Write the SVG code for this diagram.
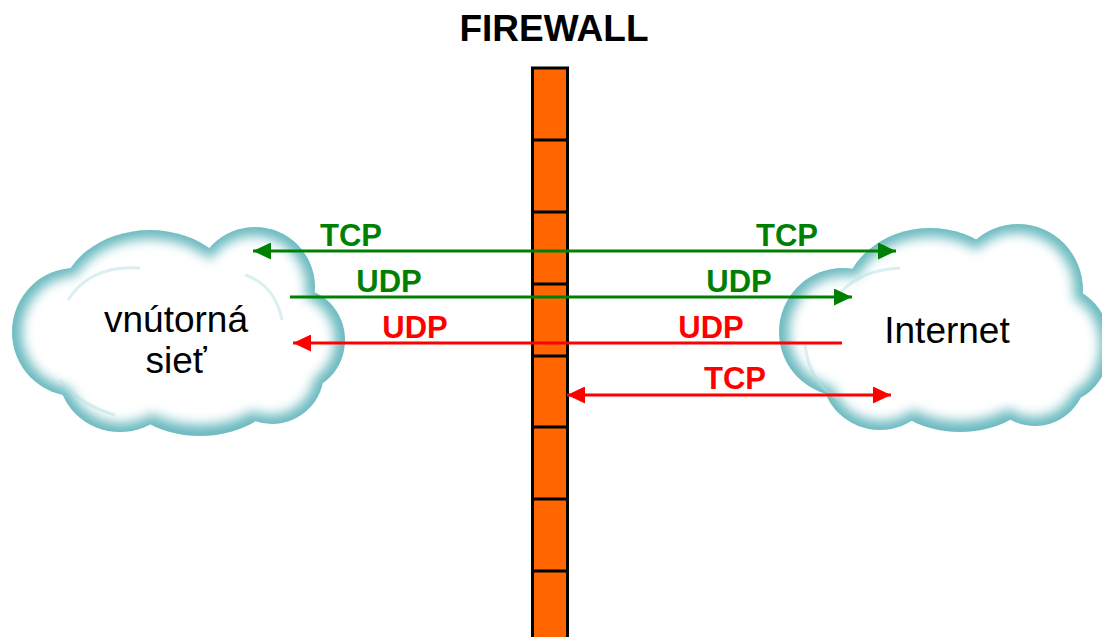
<svg xmlns="http://www.w3.org/2000/svg" width="1102" height="637" viewBox="0 0 1102 637">
<defs>
<filter id="soft" x="-20%" y="-20%" width="140%" height="140%">
<feGaussianBlur stdDeviation="6"/>
</filter>
<marker id="ag" viewBox="0 0 18 17" refX="18" refY="8.5" markerWidth="18" markerHeight="17" markerUnits="userSpaceOnUse" orient="auto-start-reverse">
<path d="M0,0 L18,8.5 L0,17 z" fill="#008000"/>
</marker>
<marker id="ar" viewBox="0 0 18 17" refX="18" refY="8.5" markerWidth="18" markerHeight="17" markerUnits="userSpaceOnUse" orient="auto-start-reverse">
<path d="M0,0 L18,8.5 L0,17 z" fill="#ff0000"/>
</marker>
</defs>
<style>
.rim{fill:#6bbac0}
.in{fill:#ffffff}
.arc{fill:none;stroke:#b6dfe2;stroke-width:3;opacity:0.5}
.lbl{font-family:"Liberation Sans",Arial,sans-serif;font-weight:bold;font-size:31px;text-anchor:middle}
.g{fill:#008000}
.r{fill:#ff0000}
.ct{font-family:"Liberation Sans",Arial,sans-serif;font-size:37px;text-anchor:middle;fill:#000}
.lg{stroke:#008000;stroke-width:3;fill:none}
.lr{stroke:#ff0000;stroke-width:3;fill:none}
.div{stroke:#000;stroke-width:3}
</style>
<rect width="1102" height="637" fill="#ffffff"/>

<g id="title">
<text x="554" y="41" font-family="Liberation Sans, Arial, sans-serif" font-weight="bold" font-size="37" text-anchor="middle" fill="#000">FIREWALL</text>
</g>

<g id="inner-network">
<g class="rim">
<ellipse cx="120" cy="372" rx="62" ry="60"/>
<ellipse cx="200" cy="380" rx="82" ry="56"/>
<ellipse cx="272" cy="372" rx="52" ry="52"/>
<ellipse cx="75" cy="332" rx="63" ry="64"/>
<ellipse cx="295" cy="340" rx="50" ry="52"/>
<ellipse cx="255" cy="287" rx="60" ry="60"/>
<ellipse cx="150" cy="302" rx="90" ry="72"/>
</g>
<g class="in" filter="url(#soft)">
<ellipse cx="121" cy="371" rx="54" ry="52"/>
<ellipse cx="200" cy="377" rx="74" ry="48"/>
<ellipse cx="271" cy="371" rx="44" ry="44"/>
<ellipse cx="77" cy="332" rx="55" ry="56"/>
<ellipse cx="293" cy="340" rx="42" ry="44"/>
<ellipse cx="254" cy="288" rx="52" ry="52"/>
<ellipse cx="150" cy="303" rx="82" ry="64"/>
</g>
<path class="arc" d="M68,300 Q90,265 140,268"/>
<path class="arc" d="M245,275 Q275,285 282,320"/>
<path class="arc" d="M60,380 Q80,405 115,415"/>
<text class="ct" x="176" y="332">vnútorná</text>
<text class="ct" x="176" y="373">sieť</text>
</g>

<g id="internet">
<g class="rim">
<ellipse cx="880" cy="374" rx="58" ry="56"/>
<ellipse cx="960" cy="380" rx="78" ry="52"/>
<ellipse cx="1035" cy="372" rx="52" ry="54"/>
<ellipse cx="843" cy="332" rx="64" ry="64"/>
<ellipse cx="1060" cy="345" rx="50" ry="58"/>
<ellipse cx="1018" cy="290" rx="65" ry="66"/>
<ellipse cx="930" cy="305" rx="88" ry="77"/>
</g>
<g class="in" filter="url(#soft)">
<ellipse cx="881" cy="373" rx="50" ry="48"/>
<ellipse cx="960" cy="377" rx="70" ry="44"/>
<ellipse cx="1034" cy="371" rx="44" ry="46"/>
<ellipse cx="845" cy="332" rx="56" ry="56"/>
<ellipse cx="1058" cy="345" rx="42" ry="50"/>
<ellipse cx="1017" cy="291" rx="57" ry="58"/>
<ellipse cx="930" cy="306" rx="80" ry="69"/>
</g>
<path class="arc" d="M835,300 Q855,270 900,268"/>
<path class="arc" d="M805,345 Q810,385 840,400"/>
<text class="ct" x="947" y="343">Internet</text>
</g>

<g id="firewall">
<rect x="532.5" y="68" width="35" height="580" fill="#ff6600" stroke="#000" stroke-width="3"/>
<line class="div" x1="532.5" y1="140" x2="567.5" y2="140"/>
<line class="div" x1="532.5" y1="212" x2="567.5" y2="212"/>
<line class="div" x1="532.5" y1="284" x2="567.5" y2="284"/>
<line class="div" x1="532.5" y1="356" x2="567.5" y2="356"/>
<line class="div" x1="532.5" y1="427" x2="567.5" y2="427"/>
<line class="div" x1="532.5" y1="499" x2="567.5" y2="499"/>
<line class="div" x1="532.5" y1="571" x2="567.5" y2="571"/>
</g>

<g id="connectors">
<line class="lg" x1="253" y1="251" x2="896" y2="251" marker-start="url(#ag)" marker-end="url(#ag)"/>
<line class="lg" x1="290" y1="297" x2="852" y2="297" marker-end="url(#ag)"/>
<line class="lr" x1="842" y1="343" x2="293" y2="343" marker-end="url(#ar)"/>
<line class="lr" x1="567" y1="395" x2="891" y2="395" marker-start="url(#ar)" marker-end="url(#ar)"/>
<text class="lbl g" x="351" y="246">TCP</text>
<text class="lbl g" x="787" y="246">TCP</text>
<text class="lbl g" x="389" y="292">UDP</text>
<text class="lbl g" x="739" y="292">UDP</text>
<text class="lbl r" x="415" y="338">UDP</text>
<text class="lbl r" x="711" y="338">UDP</text>
<text class="lbl r" x="735" y="389">TCP</text>
</g>
</svg>
